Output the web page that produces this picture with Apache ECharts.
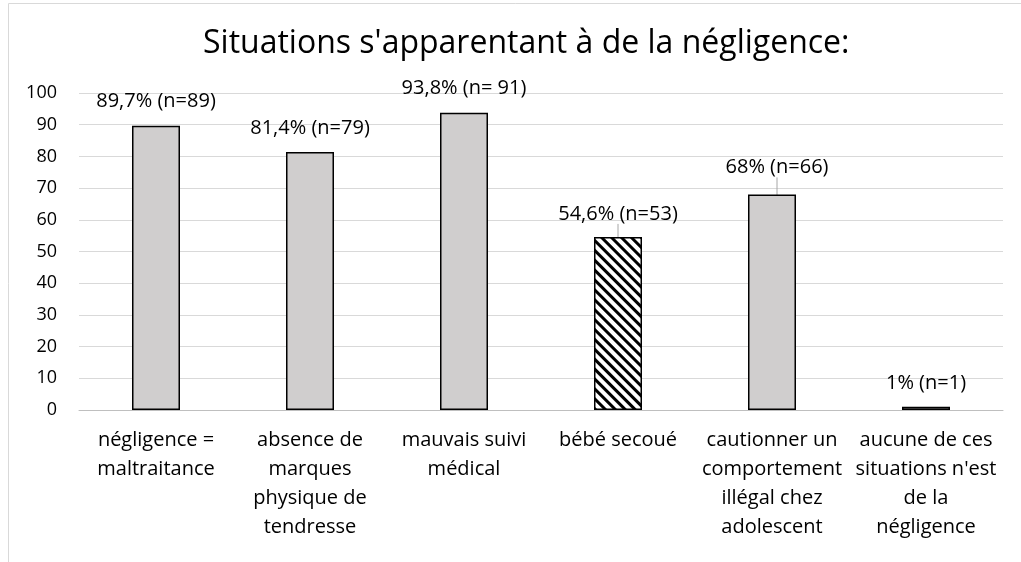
<!DOCTYPE html>
<html>
<head>
    <meta charset="utf-8">
    <title>Négligence</title>
    <script src="https://cdn.jsdelivr.net/npm/echarts@6/dist/echarts.min.js"></script>
</head>
<style>
    html, body {margin:0;padding:0;background:#fff}
    #chart {width:1021px;height:562px}
</style>
<body>
<div id="chart"></div>
<script>
    var categories = ['négligence =\nmaltraitance', 'absence de\nmarques\nphysique de\ntendresse', 'mauvais suivi\nmédical',
        'bébé secoué', 'cautionner un\ncomportement\nillégal chez\nadolescent', 'aucune de ces\nsituations n\'est\nde la\nnégligence'];
    var values = [89.7, 81.4, 93.8, 54.6, 68, 1];
    var labels = ['89,7% (n=89)', '81,4% (n=79)', '93,8% (n= 91)', '54,6% (n=53)', '68% (n=66)', '1% (n=1)'];
    var yTicks = [0, 10, 20, 30, 40, 50, 60, 70, 80, 90, 100];

    var font = '"Open Sans", sans-serif';
    var chart = echarts.init(document.getElementById('chart'));

    var barData = values.map(function (v, i) {
        var item = {value: v};
        if (i === 3) {
            item.itemStyle = {
                color: '#fff',
                decal: {
                    symbol: 'rect',
                    color: '#000',
                    backgroundColor: '#fff',
                    dashArrayX: [1, 0],
                    dashArrayY: [3, 4],
                    rotation: Math.PI / 4,
                    symbolSize: 1
                }
            };
        }
        // les deux étiquettes avec un trait de rappel
        if (i === 3 || i === 4) {
            item.label = {distance: 2};
            item.labelLine = {show: true};
        }
        return item;
    });

    var option = {
        animation: false,
        title: {
            text: "Situations s'apparentant à de la négligence:",
            left: 198,
            top: 23,
            textStyle: {fontFamily: font, fontSize: 32, fontWeight: 'normal', color: '#000'}
        },
        grid: {left: 79, right: 18, top: 93, bottom: 152},
        xAxis: {
            type: 'category',
            data: categories,
            axisTick: {show: false},
            axisLine: {lineStyle: {color: '#bfbfbf', width: 1}},
            axisLabel: {
                interval: 0, margin: 16, color: '#000',
                fontFamily: font, fontSize: 20, lineHeight: 29, align: 'center'
            }
        },
        yAxis: {
            type: 'value',
            min: 0, max: 100, interval: 10,
            axisLine: {show: false},
            axisTick: {show: false},
            splitLine: {lineStyle: {color: '#d9d9d9', width: 1}},
            axisLabel: {
                margin: 22, color: '#000', fontFamily: font, fontSize: 18,
                formatter: function (v) { return yTicks.indexOf(v) >= 0 ? String(v) : ''; }
            }
        },
        series: [{
            type: 'bar',
            data: barData,
            barWidth: 48,
            itemStyle: {color: '#d0cece', borderColor: '#000', borderWidth: 1.5},
            label: {
                show: true, position: 'top', distance: 14,
                color: '#000', fontFamily: font, fontSize: 20,
                formatter: function (p) { return labels[p.dataIndex]; }
            },
            labelLine: {show: false, lineStyle: {color: '#a6a6a6', width: 1}},
            labelLayout: function (p) {
                if (p.dataIndex === 3) return {dy: -11};
                if (p.dataIndex === 4) return {dy: -15, dx: 5};
                return {};
            }
        }],
        graphic: [{
            type: 'rect',
            shape: {x: 8.5, y: 3.5, width: 1100, height: 700},
            style: {fill: 'none', stroke: '#d9d9d9', lineWidth: 1},
            silent: true
        }]
    };
    chart.setOption(option);
</script>
</body>
</html>
